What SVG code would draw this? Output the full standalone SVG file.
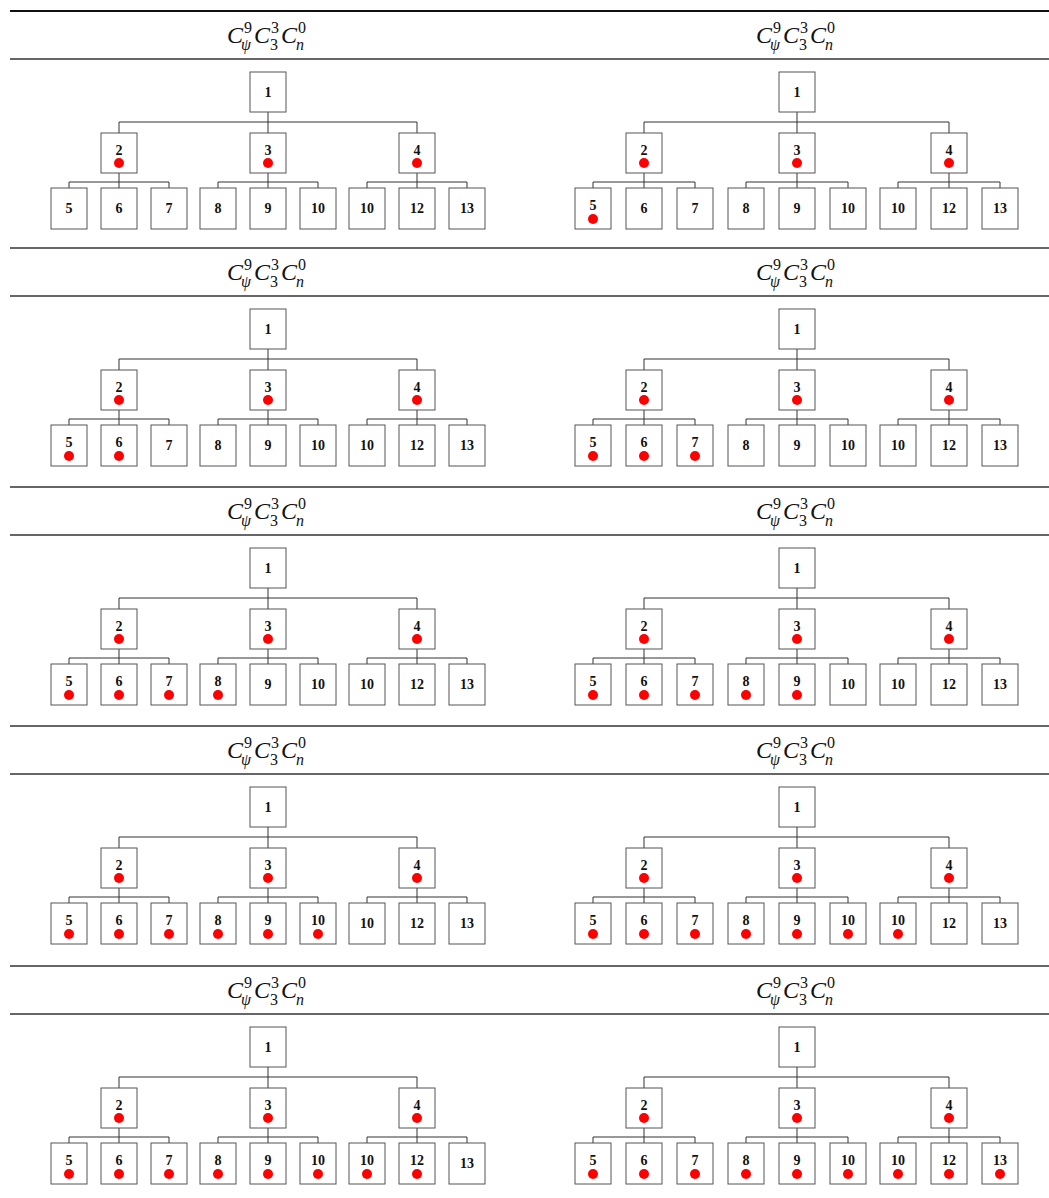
<svg xmlns="http://www.w3.org/2000/svg" width="1049" height="1198" viewBox="0 0 1049 1198">
<style>
.bg{fill:#fff}
.rule{stroke:#333;stroke-width:1.4}
.rule0{stroke:#111;stroke-width:2}
.hdr{font-family:"Liberation Serif",serif;font-style:italic;font-size:24px;fill:#111}
.s{font-size:16px}
.u{font-size:16px;font-style:normal}
.box{fill:#fff;stroke:#555;stroke-width:1}
.lbl{font-family:"Liberation Serif",serif;font-weight:bold;font-size:14px;text-anchor:middle;fill:#111}
.dot{fill:#f00}
.conn{fill:none;stroke:#333;stroke-width:1}
</style>
<rect class="bg" x="0" y="0" width="1049" height="1198"/>
<g id="rules">
<line class="rule0" x1="10" y1="11" x2="1049" y2="11"/>
<line class="rule" x1="10" y1="59" x2="1049" y2="59"/>
<line class="rule" x1="10" y1="248" x2="1049" y2="248"/>
<line class="rule" x1="10" y1="296" x2="1049" y2="296"/>
<line class="rule" x1="10" y1="487" x2="1049" y2="487"/>
<line class="rule" x1="10" y1="535" x2="1049" y2="535"/>
<line class="rule" x1="10" y1="726" x2="1049" y2="726"/>
<line class="rule" x1="10" y1="774" x2="1049" y2="774"/>
<line class="rule" x1="10" y1="966" x2="1049" y2="966"/>
<line class="rule" x1="10" y1="1014" x2="1049" y2="1014"/>
</g>
<g id="headers">
<g id="hdr-left" class="hdr">
<text><tspan x="227" y="43">C</tspan><tspan class="u" x="244" y="33">9</tspan><tspan class="s" x="241" y="50">ψ</tspan><tspan x="254" y="43">C</tspan><tspan class="u" x="271" y="33">3</tspan><tspan class="u" x="270" y="50">3</tspan><tspan x="281" y="43">C</tspan><tspan class="u" x="298" y="33">0</tspan><tspan class="s" x="296" y="50">n</tspan></text>
<text><tspan x="227" y="280">C</tspan><tspan class="u" x="244" y="270">9</tspan><tspan class="s" x="241" y="287">ψ</tspan><tspan x="254" y="280">C</tspan><tspan class="u" x="271" y="270">3</tspan><tspan class="u" x="270" y="287">3</tspan><tspan x="281" y="280">C</tspan><tspan class="u" x="298" y="270">0</tspan><tspan class="s" x="296" y="287">n</tspan></text>
<text><tspan x="227" y="519">C</tspan><tspan class="u" x="244" y="509">9</tspan><tspan class="s" x="241" y="526">ψ</tspan><tspan x="254" y="519">C</tspan><tspan class="u" x="271" y="509">3</tspan><tspan class="u" x="270" y="526">3</tspan><tspan x="281" y="519">C</tspan><tspan class="u" x="298" y="509">0</tspan><tspan class="s" x="296" y="526">n</tspan></text>
<text><tspan x="227" y="758">C</tspan><tspan class="u" x="244" y="748">9</tspan><tspan class="s" x="241" y="765">ψ</tspan><tspan x="254" y="758">C</tspan><tspan class="u" x="271" y="748">3</tspan><tspan class="u" x="270" y="765">3</tspan><tspan x="281" y="758">C</tspan><tspan class="u" x="298" y="748">0</tspan><tspan class="s" x="296" y="765">n</tspan></text>
<text><tspan x="227" y="998">C</tspan><tspan class="u" x="244" y="988">9</tspan><tspan class="s" x="241" y="1005">ψ</tspan><tspan x="254" y="998">C</tspan><tspan class="u" x="271" y="988">3</tspan><tspan class="u" x="270" y="1005">3</tspan><tspan x="281" y="998">C</tspan><tspan class="u" x="298" y="988">0</tspan><tspan class="s" x="296" y="1005">n</tspan></text>
</g>
<g id="hdr-right" class="hdr">
<text><tspan x="756" y="43">C</tspan><tspan class="u" x="773" y="33">9</tspan><tspan class="s" x="770" y="50">ψ</tspan><tspan x="783" y="43">C</tspan><tspan class="u" x="800" y="33">3</tspan><tspan class="u" x="799" y="50">3</tspan><tspan x="810" y="43">C</tspan><tspan class="u" x="827" y="33">0</tspan><tspan class="s" x="825" y="50">n</tspan></text>
<text><tspan x="756" y="280">C</tspan><tspan class="u" x="773" y="270">9</tspan><tspan class="s" x="770" y="287">ψ</tspan><tspan x="783" y="280">C</tspan><tspan class="u" x="800" y="270">3</tspan><tspan class="u" x="799" y="287">3</tspan><tspan x="810" y="280">C</tspan><tspan class="u" x="827" y="270">0</tspan><tspan class="s" x="825" y="287">n</tspan></text>
<text><tspan x="756" y="519">C</tspan><tspan class="u" x="773" y="509">9</tspan><tspan class="s" x="770" y="526">ψ</tspan><tspan x="783" y="519">C</tspan><tspan class="u" x="800" y="509">3</tspan><tspan class="u" x="799" y="526">3</tspan><tspan x="810" y="519">C</tspan><tspan class="u" x="827" y="509">0</tspan><tspan class="s" x="825" y="526">n</tspan></text>
<text><tspan x="756" y="758">C</tspan><tspan class="u" x="773" y="748">9</tspan><tspan class="s" x="770" y="765">ψ</tspan><tspan x="783" y="758">C</tspan><tspan class="u" x="800" y="748">3</tspan><tspan class="u" x="799" y="765">3</tspan><tspan x="810" y="758">C</tspan><tspan class="u" x="827" y="748">0</tspan><tspan class="s" x="825" y="765">n</tspan></text>
<text><tspan x="756" y="998">C</tspan><tspan class="u" x="773" y="988">9</tspan><tspan class="s" x="770" y="1005">ψ</tspan><tspan x="783" y="998">C</tspan><tspan class="u" x="800" y="988">3</tspan><tspan class="u" x="799" y="1005">3</tspan><tspan x="810" y="998">C</tspan><tspan class="u" x="827" y="988">0</tspan><tspan class="s" x="825" y="1005">n</tspan></text>
</g>
</g>

<g id="r1l" transform="translate(0,59)">
<g id="r1l-connectors"><path class="conn" d="M268 53V74M119 74V63H417V74M119 114V129M69 129V123H169V129M268 114V129M218 129V123H318V129M417 114V129M367 129V123H467V129"/></g>
<g id="r1l-n1"><rect class="box" x="250" y="13" width="36" height="40"/><text class="lbl" x="268" y="38">1</text></g>
<g id="r1l-n2"><rect class="box" x="101" y="74" width="36" height="40"/><text class="lbl" x="119" y="96">2</text><circle class="dot" cx="119" cy="104" r="5"/></g>
<g id="r1l-n3"><rect class="box" x="250" y="74" width="36" height="40"/><text class="lbl" x="268" y="96">3</text><circle class="dot" cx="268" cy="104" r="5"/></g>
<g id="r1l-n4"><rect class="box" x="399" y="74" width="36" height="40"/><text class="lbl" x="417" y="96">4</text><circle class="dot" cx="417" cy="104" r="5"/></g>
<g id="r1l-n5"><rect class="box" x="51" y="129" width="36" height="41"/><text class="lbl" x="69" y="154">5</text></g>
<g id="r1l-n6"><rect class="box" x="101" y="129" width="36" height="41"/><text class="lbl" x="119" y="154">6</text></g>
<g id="r1l-n7"><rect class="box" x="151" y="129" width="36" height="41"/><text class="lbl" x="169" y="154">7</text></g>
<g id="r1l-n8"><rect class="box" x="200" y="129" width="36" height="41"/><text class="lbl" x="218" y="154">8</text></g>
<g id="r1l-n9"><rect class="box" x="250" y="129" width="36" height="41"/><text class="lbl" x="268" y="154">9</text></g>
<g id="r1l-n10"><rect class="box" x="300" y="129" width="36" height="41"/><text class="lbl" x="318" y="154">10</text></g>
<g id="r1l-n10b"><rect class="box" x="349" y="129" width="36" height="41"/><text class="lbl" x="367" y="154">10</text></g>
<g id="r1l-n12"><rect class="box" x="399" y="129" width="36" height="41"/><text class="lbl" x="417" y="154">12</text></g>
<g id="r1l-n13"><rect class="box" x="449" y="129" width="36" height="41"/><text class="lbl" x="467" y="154">13</text></g>
</g>

<g id="r1r" transform="translate(0,59)">
<g id="r1r-connectors"><path class="conn" d="M797 53V74M644 74V63H949V74M644 114V129M593 129V123H695V129M797 114V129M746 129V123H848V129M949 114V129M898 129V123H1000V129"/></g>
<g id="r1r-n1"><rect class="box" x="779" y="13" width="36" height="40"/><text class="lbl" x="797" y="38">1</text></g>
<g id="r1r-n2"><rect class="box" x="626" y="74" width="36" height="40"/><text class="lbl" x="644" y="96">2</text><circle class="dot" cx="644" cy="104" r="5"/></g>
<g id="r1r-n3"><rect class="box" x="779" y="74" width="36" height="40"/><text class="lbl" x="797" y="96">3</text><circle class="dot" cx="797" cy="104" r="5"/></g>
<g id="r1r-n4"><rect class="box" x="931" y="74" width="36" height="40"/><text class="lbl" x="949" y="96">4</text><circle class="dot" cx="949" cy="104" r="5"/></g>
<g id="r1r-n5"><rect class="box" x="575" y="129" width="36" height="41"/><text class="lbl" x="593" y="151">5</text><circle class="dot" cx="593" cy="160" r="5"/></g>
<g id="r1r-n6"><rect class="box" x="626" y="129" width="36" height="41"/><text class="lbl" x="644" y="154">6</text></g>
<g id="r1r-n7"><rect class="box" x="677" y="129" width="36" height="41"/><text class="lbl" x="695" y="154">7</text></g>
<g id="r1r-n8"><rect class="box" x="728" y="129" width="36" height="41"/><text class="lbl" x="746" y="154">8</text></g>
<g id="r1r-n9"><rect class="box" x="779" y="129" width="36" height="41"/><text class="lbl" x="797" y="154">9</text></g>
<g id="r1r-n10"><rect class="box" x="830" y="129" width="36" height="41"/><text class="lbl" x="848" y="154">10</text></g>
<g id="r1r-n10b"><rect class="box" x="880" y="129" width="36" height="41"/><text class="lbl" x="898" y="154">10</text></g>
<g id="r1r-n12"><rect class="box" x="931" y="129" width="36" height="41"/><text class="lbl" x="949" y="154">12</text></g>
<g id="r1r-n13"><rect class="box" x="982" y="129" width="36" height="41"/><text class="lbl" x="1000" y="154">13</text></g>
</g>

<g id="r2l" transform="translate(0,296)">
<g id="r2l-connectors"><path class="conn" d="M268 53V74M119 74V63H417V74M119 114V129M69 129V123H169V129M268 114V129M218 129V123H318V129M417 114V129M367 129V123H467V129"/></g>
<g id="r2l-n1"><rect class="box" x="250" y="13" width="36" height="40"/><text class="lbl" x="268" y="38">1</text></g>
<g id="r2l-n2"><rect class="box" x="101" y="74" width="36" height="40"/><text class="lbl" x="119" y="96">2</text><circle class="dot" cx="119" cy="104" r="5"/></g>
<g id="r2l-n3"><rect class="box" x="250" y="74" width="36" height="40"/><text class="lbl" x="268" y="96">3</text><circle class="dot" cx="268" cy="104" r="5"/></g>
<g id="r2l-n4"><rect class="box" x="399" y="74" width="36" height="40"/><text class="lbl" x="417" y="96">4</text><circle class="dot" cx="417" cy="104" r="5"/></g>
<g id="r2l-n5"><rect class="box" x="51" y="129" width="36" height="41"/><text class="lbl" x="69" y="151">5</text><circle class="dot" cx="69" cy="160" r="5"/></g>
<g id="r2l-n6"><rect class="box" x="101" y="129" width="36" height="41"/><text class="lbl" x="119" y="151">6</text><circle class="dot" cx="119" cy="160" r="5"/></g>
<g id="r2l-n7"><rect class="box" x="151" y="129" width="36" height="41"/><text class="lbl" x="169" y="154">7</text></g>
<g id="r2l-n8"><rect class="box" x="200" y="129" width="36" height="41"/><text class="lbl" x="218" y="154">8</text></g>
<g id="r2l-n9"><rect class="box" x="250" y="129" width="36" height="41"/><text class="lbl" x="268" y="154">9</text></g>
<g id="r2l-n10"><rect class="box" x="300" y="129" width="36" height="41"/><text class="lbl" x="318" y="154">10</text></g>
<g id="r2l-n10b"><rect class="box" x="349" y="129" width="36" height="41"/><text class="lbl" x="367" y="154">10</text></g>
<g id="r2l-n12"><rect class="box" x="399" y="129" width="36" height="41"/><text class="lbl" x="417" y="154">12</text></g>
<g id="r2l-n13"><rect class="box" x="449" y="129" width="36" height="41"/><text class="lbl" x="467" y="154">13</text></g>
</g>

<g id="r2r" transform="translate(0,296)">
<g id="r2r-connectors"><path class="conn" d="M797 53V74M644 74V63H949V74M644 114V129M593 129V123H695V129M797 114V129M746 129V123H848V129M949 114V129M898 129V123H1000V129"/></g>
<g id="r2r-n1"><rect class="box" x="779" y="13" width="36" height="40"/><text class="lbl" x="797" y="38">1</text></g>
<g id="r2r-n2"><rect class="box" x="626" y="74" width="36" height="40"/><text class="lbl" x="644" y="96">2</text><circle class="dot" cx="644" cy="104" r="5"/></g>
<g id="r2r-n3"><rect class="box" x="779" y="74" width="36" height="40"/><text class="lbl" x="797" y="96">3</text><circle class="dot" cx="797" cy="104" r="5"/></g>
<g id="r2r-n4"><rect class="box" x="931" y="74" width="36" height="40"/><text class="lbl" x="949" y="96">4</text><circle class="dot" cx="949" cy="104" r="5"/></g>
<g id="r2r-n5"><rect class="box" x="575" y="129" width="36" height="41"/><text class="lbl" x="593" y="151">5</text><circle class="dot" cx="593" cy="160" r="5"/></g>
<g id="r2r-n6"><rect class="box" x="626" y="129" width="36" height="41"/><text class="lbl" x="644" y="151">6</text><circle class="dot" cx="644" cy="160" r="5"/></g>
<g id="r2r-n7"><rect class="box" x="677" y="129" width="36" height="41"/><text class="lbl" x="695" y="151">7</text><circle class="dot" cx="695" cy="160" r="5"/></g>
<g id="r2r-n8"><rect class="box" x="728" y="129" width="36" height="41"/><text class="lbl" x="746" y="154">8</text></g>
<g id="r2r-n9"><rect class="box" x="779" y="129" width="36" height="41"/><text class="lbl" x="797" y="154">9</text></g>
<g id="r2r-n10"><rect class="box" x="830" y="129" width="36" height="41"/><text class="lbl" x="848" y="154">10</text></g>
<g id="r2r-n10b"><rect class="box" x="880" y="129" width="36" height="41"/><text class="lbl" x="898" y="154">10</text></g>
<g id="r2r-n12"><rect class="box" x="931" y="129" width="36" height="41"/><text class="lbl" x="949" y="154">12</text></g>
<g id="r2r-n13"><rect class="box" x="982" y="129" width="36" height="41"/><text class="lbl" x="1000" y="154">13</text></g>
</g>

<g id="r3l" transform="translate(0,535)">
<g id="r3l-connectors"><path class="conn" d="M268 53V74M119 74V63H417V74M119 114V129M69 129V123H169V129M268 114V129M218 129V123H318V129M417 114V129M367 129V123H467V129"/></g>
<g id="r3l-n1"><rect class="box" x="250" y="13" width="36" height="40"/><text class="lbl" x="268" y="38">1</text></g>
<g id="r3l-n2"><rect class="box" x="101" y="74" width="36" height="40"/><text class="lbl" x="119" y="96">2</text><circle class="dot" cx="119" cy="104" r="5"/></g>
<g id="r3l-n3"><rect class="box" x="250" y="74" width="36" height="40"/><text class="lbl" x="268" y="96">3</text><circle class="dot" cx="268" cy="104" r="5"/></g>
<g id="r3l-n4"><rect class="box" x="399" y="74" width="36" height="40"/><text class="lbl" x="417" y="96">4</text><circle class="dot" cx="417" cy="104" r="5"/></g>
<g id="r3l-n5"><rect class="box" x="51" y="129" width="36" height="41"/><text class="lbl" x="69" y="151">5</text><circle class="dot" cx="69" cy="160" r="5"/></g>
<g id="r3l-n6"><rect class="box" x="101" y="129" width="36" height="41"/><text class="lbl" x="119" y="151">6</text><circle class="dot" cx="119" cy="160" r="5"/></g>
<g id="r3l-n7"><rect class="box" x="151" y="129" width="36" height="41"/><text class="lbl" x="169" y="151">7</text><circle class="dot" cx="169" cy="160" r="5"/></g>
<g id="r3l-n8"><rect class="box" x="200" y="129" width="36" height="41"/><text class="lbl" x="218" y="151">8</text><circle class="dot" cx="218" cy="160" r="5"/></g>
<g id="r3l-n9"><rect class="box" x="250" y="129" width="36" height="41"/><text class="lbl" x="268" y="154">9</text></g>
<g id="r3l-n10"><rect class="box" x="300" y="129" width="36" height="41"/><text class="lbl" x="318" y="154">10</text></g>
<g id="r3l-n10b"><rect class="box" x="349" y="129" width="36" height="41"/><text class="lbl" x="367" y="154">10</text></g>
<g id="r3l-n12"><rect class="box" x="399" y="129" width="36" height="41"/><text class="lbl" x="417" y="154">12</text></g>
<g id="r3l-n13"><rect class="box" x="449" y="129" width="36" height="41"/><text class="lbl" x="467" y="154">13</text></g>
</g>

<g id="r3r" transform="translate(0,535)">
<g id="r3r-connectors"><path class="conn" d="M797 53V74M644 74V63H949V74M644 114V129M593 129V123H695V129M797 114V129M746 129V123H848V129M949 114V129M898 129V123H1000V129"/></g>
<g id="r3r-n1"><rect class="box" x="779" y="13" width="36" height="40"/><text class="lbl" x="797" y="38">1</text></g>
<g id="r3r-n2"><rect class="box" x="626" y="74" width="36" height="40"/><text class="lbl" x="644" y="96">2</text><circle class="dot" cx="644" cy="104" r="5"/></g>
<g id="r3r-n3"><rect class="box" x="779" y="74" width="36" height="40"/><text class="lbl" x="797" y="96">3</text><circle class="dot" cx="797" cy="104" r="5"/></g>
<g id="r3r-n4"><rect class="box" x="931" y="74" width="36" height="40"/><text class="lbl" x="949" y="96">4</text><circle class="dot" cx="949" cy="104" r="5"/></g>
<g id="r3r-n5"><rect class="box" x="575" y="129" width="36" height="41"/><text class="lbl" x="593" y="151">5</text><circle class="dot" cx="593" cy="160" r="5"/></g>
<g id="r3r-n6"><rect class="box" x="626" y="129" width="36" height="41"/><text class="lbl" x="644" y="151">6</text><circle class="dot" cx="644" cy="160" r="5"/></g>
<g id="r3r-n7"><rect class="box" x="677" y="129" width="36" height="41"/><text class="lbl" x="695" y="151">7</text><circle class="dot" cx="695" cy="160" r="5"/></g>
<g id="r3r-n8"><rect class="box" x="728" y="129" width="36" height="41"/><text class="lbl" x="746" y="151">8</text><circle class="dot" cx="746" cy="160" r="5"/></g>
<g id="r3r-n9"><rect class="box" x="779" y="129" width="36" height="41"/><text class="lbl" x="797" y="151">9</text><circle class="dot" cx="797" cy="160" r="5"/></g>
<g id="r3r-n10"><rect class="box" x="830" y="129" width="36" height="41"/><text class="lbl" x="848" y="154">10</text></g>
<g id="r3r-n10b"><rect class="box" x="880" y="129" width="36" height="41"/><text class="lbl" x="898" y="154">10</text></g>
<g id="r3r-n12"><rect class="box" x="931" y="129" width="36" height="41"/><text class="lbl" x="949" y="154">12</text></g>
<g id="r3r-n13"><rect class="box" x="982" y="129" width="36" height="41"/><text class="lbl" x="1000" y="154">13</text></g>
</g>

<g id="r4l" transform="translate(0,774)">
<g id="r4l-connectors"><path class="conn" d="M268 53V74M119 74V63H417V74M119 114V129M69 129V123H169V129M268 114V129M218 129V123H318V129M417 114V129M367 129V123H467V129"/></g>
<g id="r4l-n1"><rect class="box" x="250" y="13" width="36" height="40"/><text class="lbl" x="268" y="38">1</text></g>
<g id="r4l-n2"><rect class="box" x="101" y="74" width="36" height="40"/><text class="lbl" x="119" y="96">2</text><circle class="dot" cx="119" cy="104" r="5"/></g>
<g id="r4l-n3"><rect class="box" x="250" y="74" width="36" height="40"/><text class="lbl" x="268" y="96">3</text><circle class="dot" cx="268" cy="104" r="5"/></g>
<g id="r4l-n4"><rect class="box" x="399" y="74" width="36" height="40"/><text class="lbl" x="417" y="96">4</text><circle class="dot" cx="417" cy="104" r="5"/></g>
<g id="r4l-n5"><rect class="box" x="51" y="129" width="36" height="41"/><text class="lbl" x="69" y="151">5</text><circle class="dot" cx="69" cy="160" r="5"/></g>
<g id="r4l-n6"><rect class="box" x="101" y="129" width="36" height="41"/><text class="lbl" x="119" y="151">6</text><circle class="dot" cx="119" cy="160" r="5"/></g>
<g id="r4l-n7"><rect class="box" x="151" y="129" width="36" height="41"/><text class="lbl" x="169" y="151">7</text><circle class="dot" cx="169" cy="160" r="5"/></g>
<g id="r4l-n8"><rect class="box" x="200" y="129" width="36" height="41"/><text class="lbl" x="218" y="151">8</text><circle class="dot" cx="218" cy="160" r="5"/></g>
<g id="r4l-n9"><rect class="box" x="250" y="129" width="36" height="41"/><text class="lbl" x="268" y="151">9</text><circle class="dot" cx="268" cy="160" r="5"/></g>
<g id="r4l-n10"><rect class="box" x="300" y="129" width="36" height="41"/><text class="lbl" x="318" y="151">10</text><circle class="dot" cx="318" cy="160" r="5"/></g>
<g id="r4l-n10b"><rect class="box" x="349" y="129" width="36" height="41"/><text class="lbl" x="367" y="154">10</text></g>
<g id="r4l-n12"><rect class="box" x="399" y="129" width="36" height="41"/><text class="lbl" x="417" y="154">12</text></g>
<g id="r4l-n13"><rect class="box" x="449" y="129" width="36" height="41"/><text class="lbl" x="467" y="154">13</text></g>
</g>

<g id="r4r" transform="translate(0,774)">
<g id="r4r-connectors"><path class="conn" d="M797 53V74M644 74V63H949V74M644 114V129M593 129V123H695V129M797 114V129M746 129V123H848V129M949 114V129M898 129V123H1000V129"/></g>
<g id="r4r-n1"><rect class="box" x="779" y="13" width="36" height="40"/><text class="lbl" x="797" y="38">1</text></g>
<g id="r4r-n2"><rect class="box" x="626" y="74" width="36" height="40"/><text class="lbl" x="644" y="96">2</text><circle class="dot" cx="644" cy="104" r="5"/></g>
<g id="r4r-n3"><rect class="box" x="779" y="74" width="36" height="40"/><text class="lbl" x="797" y="96">3</text><circle class="dot" cx="797" cy="104" r="5"/></g>
<g id="r4r-n4"><rect class="box" x="931" y="74" width="36" height="40"/><text class="lbl" x="949" y="96">4</text><circle class="dot" cx="949" cy="104" r="5"/></g>
<g id="r4r-n5"><rect class="box" x="575" y="129" width="36" height="41"/><text class="lbl" x="593" y="151">5</text><circle class="dot" cx="593" cy="160" r="5"/></g>
<g id="r4r-n6"><rect class="box" x="626" y="129" width="36" height="41"/><text class="lbl" x="644" y="151">6</text><circle class="dot" cx="644" cy="160" r="5"/></g>
<g id="r4r-n7"><rect class="box" x="677" y="129" width="36" height="41"/><text class="lbl" x="695" y="151">7</text><circle class="dot" cx="695" cy="160" r="5"/></g>
<g id="r4r-n8"><rect class="box" x="728" y="129" width="36" height="41"/><text class="lbl" x="746" y="151">8</text><circle class="dot" cx="746" cy="160" r="5"/></g>
<g id="r4r-n9"><rect class="box" x="779" y="129" width="36" height="41"/><text class="lbl" x="797" y="151">9</text><circle class="dot" cx="797" cy="160" r="5"/></g>
<g id="r4r-n10"><rect class="box" x="830" y="129" width="36" height="41"/><text class="lbl" x="848" y="151">10</text><circle class="dot" cx="848" cy="160" r="5"/></g>
<g id="r4r-n10b"><rect class="box" x="880" y="129" width="36" height="41"/><text class="lbl" x="898" y="151">10</text><circle class="dot" cx="898" cy="160" r="5"/></g>
<g id="r4r-n12"><rect class="box" x="931" y="129" width="36" height="41"/><text class="lbl" x="949" y="154">12</text></g>
<g id="r4r-n13"><rect class="box" x="982" y="129" width="36" height="41"/><text class="lbl" x="1000" y="154">13</text></g>
</g>

<g id="r5l" transform="translate(0,1014)">
<g id="r5l-connectors"><path class="conn" d="M268 53V74M119 74V63H417V74M119 114V129M69 129V123H169V129M268 114V129M218 129V123H318V129M417 114V129M367 129V123H467V129"/></g>
<g id="r5l-n1"><rect class="box" x="250" y="13" width="36" height="40"/><text class="lbl" x="268" y="38">1</text></g>
<g id="r5l-n2"><rect class="box" x="101" y="74" width="36" height="40"/><text class="lbl" x="119" y="96">2</text><circle class="dot" cx="119" cy="104" r="5"/></g>
<g id="r5l-n3"><rect class="box" x="250" y="74" width="36" height="40"/><text class="lbl" x="268" y="96">3</text><circle class="dot" cx="268" cy="104" r="5"/></g>
<g id="r5l-n4"><rect class="box" x="399" y="74" width="36" height="40"/><text class="lbl" x="417" y="96">4</text><circle class="dot" cx="417" cy="104" r="5"/></g>
<g id="r5l-n5"><rect class="box" x="51" y="129" width="36" height="41"/><text class="lbl" x="69" y="151">5</text><circle class="dot" cx="69" cy="160" r="5"/></g>
<g id="r5l-n6"><rect class="box" x="101" y="129" width="36" height="41"/><text class="lbl" x="119" y="151">6</text><circle class="dot" cx="119" cy="160" r="5"/></g>
<g id="r5l-n7"><rect class="box" x="151" y="129" width="36" height="41"/><text class="lbl" x="169" y="151">7</text><circle class="dot" cx="169" cy="160" r="5"/></g>
<g id="r5l-n8"><rect class="box" x="200" y="129" width="36" height="41"/><text class="lbl" x="218" y="151">8</text><circle class="dot" cx="218" cy="160" r="5"/></g>
<g id="r5l-n9"><rect class="box" x="250" y="129" width="36" height="41"/><text class="lbl" x="268" y="151">9</text><circle class="dot" cx="268" cy="160" r="5"/></g>
<g id="r5l-n10"><rect class="box" x="300" y="129" width="36" height="41"/><text class="lbl" x="318" y="151">10</text><circle class="dot" cx="318" cy="160" r="5"/></g>
<g id="r5l-n10b"><rect class="box" x="349" y="129" width="36" height="41"/><text class="lbl" x="367" y="151">10</text><circle class="dot" cx="367" cy="160" r="5"/></g>
<g id="r5l-n12"><rect class="box" x="399" y="129" width="36" height="41"/><text class="lbl" x="417" y="151">12</text><circle class="dot" cx="417" cy="160" r="5"/></g>
<g id="r5l-n13"><rect class="box" x="449" y="129" width="36" height="41"/><text class="lbl" x="467" y="154">13</text></g>
</g>

<g id="r5r" transform="translate(0,1014)">
<g id="r5r-connectors"><path class="conn" d="M797 53V74M644 74V63H949V74M644 114V129M593 129V123H695V129M797 114V129M746 129V123H848V129M949 114V129M898 129V123H1000V129"/></g>
<g id="r5r-n1"><rect class="box" x="779" y="13" width="36" height="40"/><text class="lbl" x="797" y="38">1</text></g>
<g id="r5r-n2"><rect class="box" x="626" y="74" width="36" height="40"/><text class="lbl" x="644" y="96">2</text><circle class="dot" cx="644" cy="104" r="5"/></g>
<g id="r5r-n3"><rect class="box" x="779" y="74" width="36" height="40"/><text class="lbl" x="797" y="96">3</text><circle class="dot" cx="797" cy="104" r="5"/></g>
<g id="r5r-n4"><rect class="box" x="931" y="74" width="36" height="40"/><text class="lbl" x="949" y="96">4</text><circle class="dot" cx="949" cy="104" r="5"/></g>
<g id="r5r-n5"><rect class="box" x="575" y="129" width="36" height="41"/><text class="lbl" x="593" y="151">5</text><circle class="dot" cx="593" cy="160" r="5"/></g>
<g id="r5r-n6"><rect class="box" x="626" y="129" width="36" height="41"/><text class="lbl" x="644" y="151">6</text><circle class="dot" cx="644" cy="160" r="5"/></g>
<g id="r5r-n7"><rect class="box" x="677" y="129" width="36" height="41"/><text class="lbl" x="695" y="151">7</text><circle class="dot" cx="695" cy="160" r="5"/></g>
<g id="r5r-n8"><rect class="box" x="728" y="129" width="36" height="41"/><text class="lbl" x="746" y="151">8</text><circle class="dot" cx="746" cy="160" r="5"/></g>
<g id="r5r-n9"><rect class="box" x="779" y="129" width="36" height="41"/><text class="lbl" x="797" y="151">9</text><circle class="dot" cx="797" cy="160" r="5"/></g>
<g id="r5r-n10"><rect class="box" x="830" y="129" width="36" height="41"/><text class="lbl" x="848" y="151">10</text><circle class="dot" cx="848" cy="160" r="5"/></g>
<g id="r5r-n10b"><rect class="box" x="880" y="129" width="36" height="41"/><text class="lbl" x="898" y="151">10</text><circle class="dot" cx="898" cy="160" r="5"/></g>
<g id="r5r-n12"><rect class="box" x="931" y="129" width="36" height="41"/><text class="lbl" x="949" y="151">12</text><circle class="dot" cx="949" cy="160" r="5"/></g>
<g id="r5r-n13"><rect class="box" x="982" y="129" width="36" height="41"/><text class="lbl" x="1000" y="151">13</text><circle class="dot" cx="1000" cy="160" r="5"/></g>
</g>
</svg>
